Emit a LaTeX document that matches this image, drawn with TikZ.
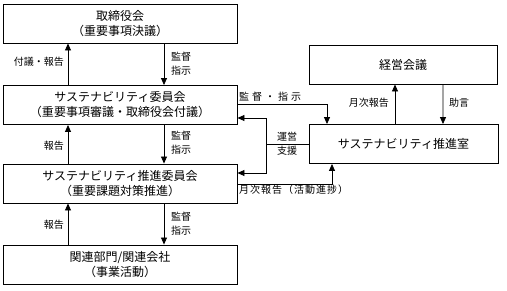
\documentclass[tikz,border=0pt]{standalone}
\usepackage{fontspec}
\setmainfont{Noto Sans CJK JP}
\usetikzlibrary{arrows.meta}
\begin{document}
\begin{tikzpicture}[x=1bp,y=-1bp,
  every node/.style={inner sep=0pt},
  box/.style={draw,line width=0.9bp,minimum height=39bp,align=center,font=\fontsize{12bp}{15bp}\selectfont},
  lbl/.style={font=\fontsize{10bp}{14bp}\selectfont,align=left},
  conn/.style={line width=0.8bp},
  arr/.style={conn,-{Triangle[width=6bp,length=7bp]}}]
\useasboundingbox (0,0) rectangle (507,290);
\node[box,minimum width=234bp] (A) at (120,23.5) {取締役会\\（重要事項決議）};
\node[box,minimum width=234bp] (B) at (120,105) {サステナビリティ委員会\\（重要事項審議・取締役会付議）};
\node[box,minimum width=234bp] (C) at (120,183.5) {サステナビリティ推進委員会\\（重要課題対策推進）};
\node[box,minimum width=234bp] (D) at (120,264.5) {関連部門/関連会社\\（事業活動）};
\node[box,minimum width=188bp] (E) at (403,64.5) {経営会議};
\node[box,minimum width=189bp] (F) at (403.5,144) {サステナビリティ推進室};
% left column arrows
\draw[arr] ([xshift=-52bp]B.north) -- ([xshift=-52bp]A.south);
\draw[arr] ([xshift=44bp]A.south) -- ([xshift=44bp]B.north);
\draw[arr] ([xshift=-52bp]C.north) -- ([xshift=-52bp]B.south);
\draw[arr] ([xshift=44bp]B.south) -- ([xshift=44bp]C.north);
\draw[arr] ([xshift=-52bp]D.north) -- ([xshift=-52bp]C.south);
\draw[arr] ([xshift=44bp]C.south) -- ([xshift=44bp]D.north);
\node[lbl,anchor=east] (l1) at (64,62) {付議・報告};
\node[lbl,anchor=west] (l2) at (171,64) {監督\\指示};
\node[lbl,anchor=east] (l3) at (64,146) {報告};
\node[lbl,anchor=west] (l4) at (171,142.5) {監督\\指示};
\node[lbl,anchor=east] (l5) at (64,225) {報告};
\node[lbl,anchor=west] (l6) at (171,223.5) {監督\\指示};
% right side
\draw[arr] ([yshift=1bp]B.east) -| ([xshift=-76.5bp]F.north);
\node[lbl,anchor=south west,font=\fontsize{10bp}{12bp}\selectfont\addfontfeature{LetterSpace=30}] (l7) at (239,102) {監督・指示};
\coordinate (j) at (266,144);
\draw[conn] (F.west) -- (j);
\draw[arr] (j) |- ([yshift=-13bp]B.east);
\draw[arr] (j) |- ([yshift=10.5bp]C.east);
\node[lbl,align=center] (l8) at (287,143.5) {運営\\支援};
\draw[arr] ([yshift=-0.5bp]C.east) -| ([xshift=-71.5bp]F.south);
\node[lbl,anchor=north west,font=\fontsize{10bp}{12bp}\selectfont\addfontfeature{LetterSpace=10}] (l9) at (239,185) {月次報告（活動進捗）};
\draw[arr] ([xshift=-8.5bp]F.north) -- ([xshift=-8bp]E.south);
\draw[arr] ([xshift=40bp]E.south) -- ([xshift=39.5bp]F.north);
\node[lbl,anchor=east] (l10) at (389,103) {月次報告};
\node[lbl,anchor=west] (l11) at (449,103) {助言};
\end{tikzpicture}
\end{document}
